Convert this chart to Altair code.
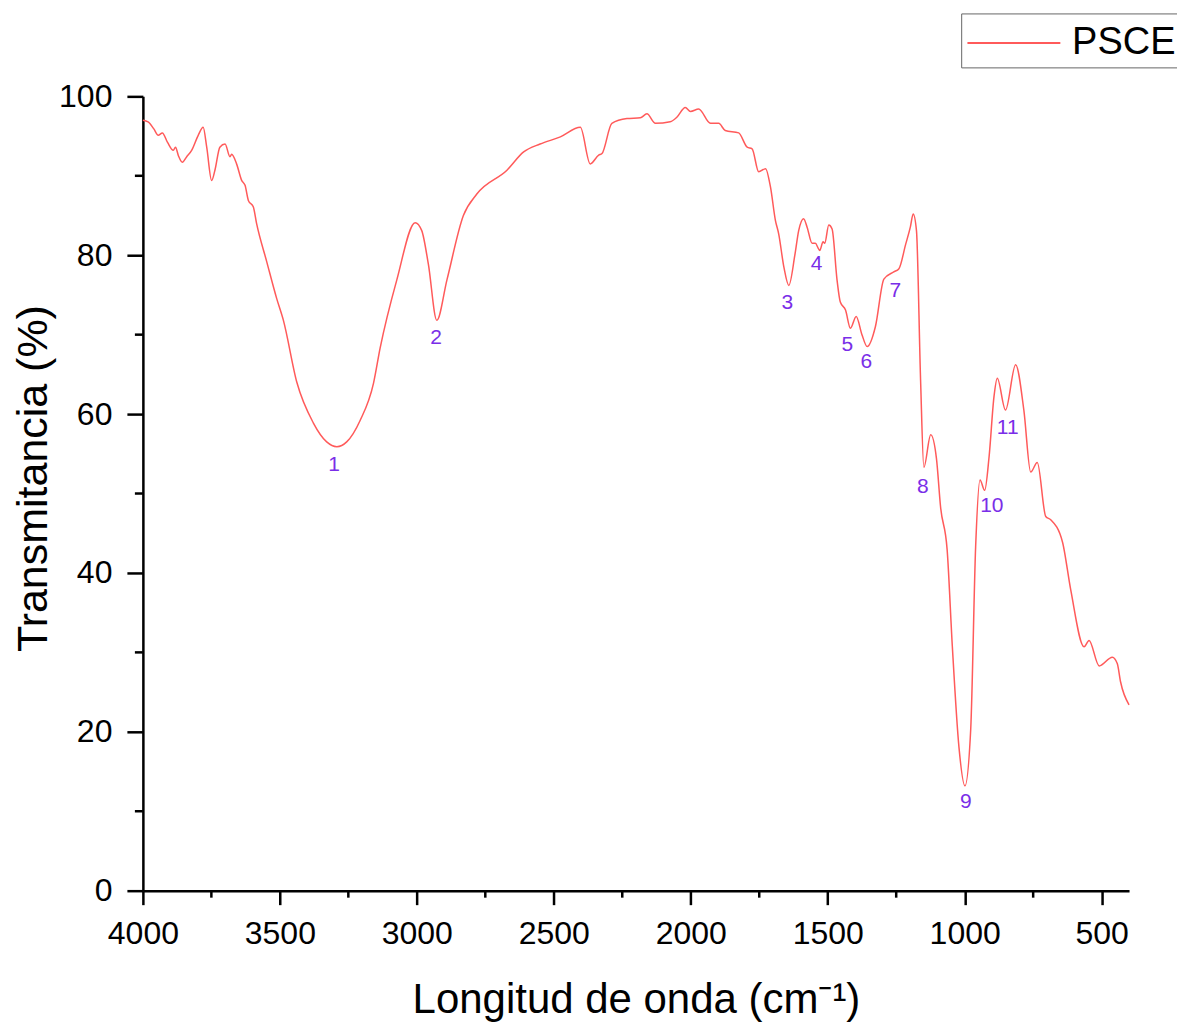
import altair as alt
import pandas as pd

# Spectrum (wavenumber cm^-1, transmittance %)
wavenumber = [4000, 3981, 3960, 3944, 3929, 3910, 3889, 3881, 3870, 3856, 3840, 3822, 3798, 3780,
              3767, 3749, 3737, 3719, 3700, 3682, 3676, 3658, 3639, 3627, 3615, 3597, 3585, 3548,
              3512, 3487, 3438, 3378, 3329, 3292, 3256, 3207, 3158, 3134, 3073, 3006,
              2982, 2958, 2927, 2890, 2830, 2781, 2671, 2610, 2550, 2476, 2403, 2367, 2336, 2324,
              2288, 2233, 2184, 2160, 2129, 2075, 2050, 2020, 2001, 1971, 1928, 1898, 1874, 1825,
              1794, 1776, 1752, 1727, 1709, 1691, 1679, 1660, 1642, 1620, 1606, 1588, 1575, 1557,
              1545, 1535, 1529, 1517, 1511, 1496, 1484, 1466, 1454, 1435, 1417, 1396, 1375, 1356,
              1326, 1295, 1259, 1240, 1216, 1198, 1188, 1176, 1161, 1149, 1124, 1103, 1088, 1064,
              1045, 1021, 999, 978, 960, 944, 927, 911, 893, 881, 851, 814, 784, 759, 735, 704,
              686, 643, 613, 564, 546, 509, 461, 443, 431, 400]
transmittance = [97.0, 96.8, 95.9, 95.1, 95.4, 94.2, 93.2, 93.6, 92.5, 91.7, 92.4, 93.2, 95.1, 96.1,
                 93.6, 89.4, 90.7, 93.6, 94.0, 92.4, 92.7, 91.5, 89.4, 88.8, 86.9, 86.1, 84.0, 79.2,
                 74.6, 71.8, 64.0, 58.9, 56.5, 55.9, 56.5, 59.2, 63.9, 68.3, 76.9, 84.1,
                 83.1, 78.9, 71.8, 76.9, 85.0, 87.7, 90.7, 93.0, 94.0, 94.9, 96.1, 91.5, 92.6, 92.8,
                 96.6, 97.2, 97.3, 97.8, 96.6, 96.8, 97.4, 98.6, 98.1, 98.4, 96.6, 96.6, 95.7, 95.4,
                 93.6, 93.4, 90.5, 90.9, 88.6, 84.4, 82.7, 78.5, 76.2, 80.0, 83.1, 84.6, 83.5, 81.5,
                 81.5, 80.9, 80.6, 81.7, 81.5, 83.8, 83.3, 76.9, 74.1, 73.1, 70.8, 72.3, 70.0, 68.5,
                 71.0, 77.0, 77.9, 78.3, 81.3, 83.6, 85.2, 83.1, 64.3, 53.3, 57.4, 54.4, 48.3, 42.9,
                 30.7, 18.1, 13.2, 20.3, 43.3, 51.7, 50.4, 54.6, 62.2, 64.5, 60.5, 66.2, 60.5, 52.7,
                 53.9, 47.1, 46.7, 43.9, 37.9, 30.7, 31.5, 28.3, 29.4, 28.6, 26.3, 23.4]

# Peak annotations
label_text = ["1", "2", "3", "4", "5", "6", "7", "8", "9", "10", "11"]
label_wn = [3302, 2930, 1647, 1541, 1428, 1359, 1253, 1153, 996, 901, 843]
label_T = [53.6, 69.6, 74.0, 78.9, 68.7, 66.5, 75.5, 50.8, 11.2, 48.4, 58.2]

x_ticks = [4000, 3500, 3000, 2500, 2000, 1500, 1000, 500]
x_minor = [3750, 3250, 2750, 2250, 1750, 1250, 750]
y_ticks = [0, 20, 40, 60, 80, 100]
y_minor = [10, 30, 50, 70, 90]

W, H = 987, 795
FONT = "Liberation Sans"
LINE = "#ff5a5a"
PURPLE = "#7a2ee8"

spec = pd.DataFrame({"wn": wavenumber, "T": transmittance, "series": ["PSCE"] * len(wavenumber)})
labels = pd.DataFrame({"wn": label_wn, "T": label_T, "txt": label_text})
xm = pd.DataFrame({"wn": x_minor})
ym = pd.DataFrame({"T": y_minor})

xscale = alt.Scale(domain=[400, 4000], reverse=True, nice=False, zero=False)
yscale = alt.Scale(domain=[0, 100], nice=False)

line = alt.Chart(spec).mark_line(strokeWidth=1.5, interpolate="monotone").encode(
    x=alt.X("wn:Q", scale=xscale,
            axis=alt.Axis(values=x_ticks, format="d", title="Longitud de onda (cm⁻¹)",
                          grid=False, domainColor="black", domainWidth=2.5, tickColor="black",
                          tickWidth=2.5, tickSize=14, labelFontSize=32, labelFont=FONT,
                          labelColor="black", labelPadding=14, titleFont=FONT, titleFontSize=42,
                          titleFontWeight="normal", titleColor="black", titlePadding=30,
                          labelFlush=False)),
    y=alt.Y("T:Q", scale=yscale,
            axis=alt.Axis(values=y_ticks, title="Transmitancia (%)", grid=False,
                          domainColor="black", domainWidth=2.5, tickColor="black", tickWidth=2.5,
                          tickSize=16, labelFontSize=32, labelFont=FONT, labelColor="black",
                          labelPadding=15, titleFont=FONT, titleFontSize=43, titleFontWeight="normal",
                          titleColor="black", titleX=-87, titleY=382, titleAngle=270,
                          titleBaseline="bottom", titleAlign="center", labelFlush=False)),
    color=alt.Color("series:N", scale=alt.Scale(domain=["PSCE"], range=[LINE]),
                    legend=alt.Legend(title=None, orient="none", legendX=819, legendY=-83,
                                      symbolType="M-1,0L3,0", symbolSize=2162, symbolStrokeWidth=2,
                                      symbolFillColor="transparent",
                                      labelFontSize=38, labelFont=FONT, labelColor="black",
                                      labelOffset=57, padding=5, strokeColor="#666666",
                                      fillColor="white")),
)

text = alt.Chart(labels).mark_text(fontSize=21, font=FONT, color=PURPLE, align="center",
                                    baseline="middle").encode(
    x=alt.X("wn:Q", scale=xscale), y=alt.Y("T:Q", scale=yscale), text="txt:N")

xminor = alt.Chart(xm).mark_rule(color="black", strokeWidth=2.5).encode(
    x=alt.X("wn:Q", scale=xscale), y=alt.value(H), y2=alt.value(H + 7))
yminor = alt.Chart(ym).mark_rule(color="black", strokeWidth=2.5).encode(
    y=alt.Y("T:Q", scale=yscale), x=alt.value(0), x2=alt.value(-8))

chart = alt.layer(line, text, xminor, yminor).properties(
    width=W, height=H,
    background="white",
    autosize=alt.AutoSizeParams(type="none"),
    padding={"left": 135, "top": 88, "right": 48, "bottom": 133},
).configure_view(stroke=None)

chart.save("out.html", embed_options={"renderer": "svg", "actions": False})
